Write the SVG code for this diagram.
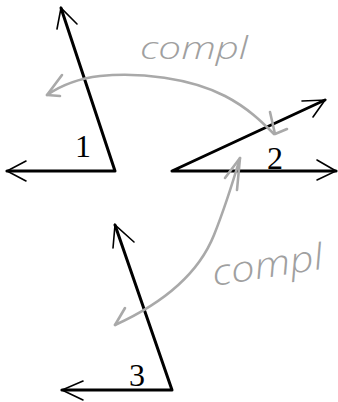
<svg xmlns="http://www.w3.org/2000/svg" width="338" height="402" viewBox="0 0 338 402">
<style>
.ray{stroke:#000;stroke-width:3;fill:none;stroke-linecap:round;stroke-linejoin:round}
.barb{stroke:#000;stroke-width:1.6;fill:none;stroke-linecap:round}
.conn{stroke:#a9a9a9;stroke-width:2.6;fill:none;stroke-linecap:round;stroke-linejoin:round}
.num{font-family:"Liberation Serif","Times New Roman",serif;font-size:32px;fill:#000}
.hand{font-family:"Open Sans","Liberation Sans",Arial,sans-serif;font-style:italic;font-weight:300;fill:#a0a0a0}
</style>
<rect width="338" height="402" fill="#fff"/>
<g id="angle1">
  <path class="ray" d="M115,171 L61,8 M115,171 L7,171"/>
  <path class="barb" d="M57,29 L61,8 L77,24 M26,161 L7,171 L26,181"/>
  <text class="num" x="83" y="157" text-anchor="middle">1</text>
</g>
<g id="angle2">
  <path class="ray" d="M172,171 L325,100 M172,171 L336,171"/>
  <path class="barb" d="M302,101 L325,100 L313,117 M317,160 L336,171 L317,180"/>
  <text class="num" x="275" y="169" text-anchor="middle">2</text>
</g>
<g id="angle3">
  <path class="ray" d="M172,390 L115,225 M172,390 L62,390"/>
  <path class="barb" d="M113,248 L115,225 L134,242 M83,381 L62,390 L83,400"/>
  <text class="num" x="137" y="386" text-anchor="middle">3</text>
</g>
<g id="connectors">
  <path class="conn" d="M47,95 C60,86 75,79 100,76 C140,72 190,78 225,96 C248,108 262,122 274,134"/>
  <path class="conn" d="M62,75 L47,95 L60,96 M270,112 L275,134 L287,129"/>
  <path class="conn" d="M240,158 C232,185 224,210 214,235 C200,270 170,300 115,325"/>
  <path class="conn" d="M225,178 L240,158 L237,190 M125,308 L115,325"/>
</g>
<g id="labels">
  <text class="hand" x="140" y="59" font-size="32" textLength="108" lengthAdjust="spacingAndGlyphs">compl</text>
  <text class="hand" x="214" y="286" font-size="36" textLength="112" lengthAdjust="spacingAndGlyphs" transform="rotate(-9 214 286)">compl</text>
</g>
</svg>
